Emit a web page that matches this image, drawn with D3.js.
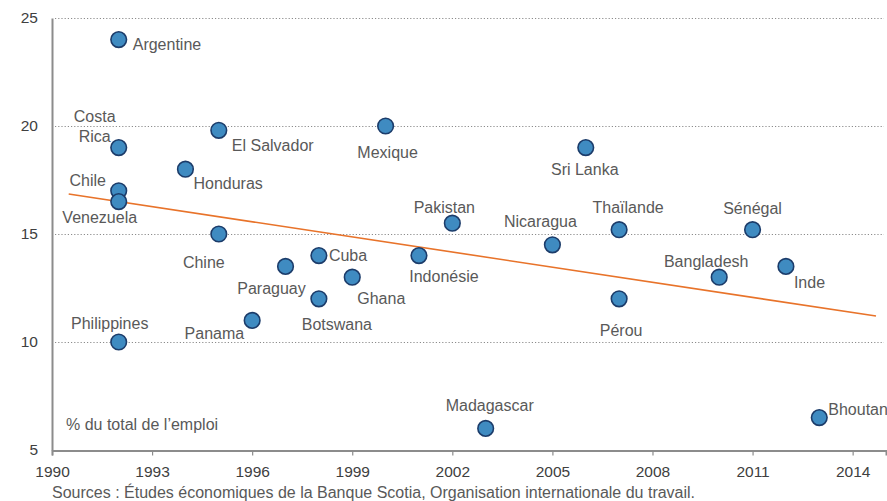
<!DOCTYPE html>
<html>
<head>
<meta charset="utf-8">
<script src="https://cdn.jsdelivr.net/npm/d3@7"></script>
<style>
  body { margin: 0; background: #fff; }
  svg { font-family: "Liberation Sans", Arial, sans-serif; }
  .grid line { stroke: #8c8c8c; stroke-dasharray: 1.2 2; stroke-width: 1; }
  .lbl { fill: #595959; font-size: 16px; }
  .tick text { fill: #404040; font-size: 15.5px; }
</style>
</head>
<body>
<svg class="chart" width="887" height="501"></svg>
<script>
var countries = ['Argentine', 'Costa\nRica', 'Chile', 'Venezuela', 'Philippines', 'Honduras',
  'El Salvador', 'Chine', 'Panama', 'Paraguay', 'Cuba', 'Botswana', 'Ghana', 'Mexique',
  'Indonésie', 'Pakistan', 'Madagascar', 'Nicaragua', 'Sri Lanka', 'Thaïlande', 'Pérou',
  'Bangladesh', 'Sénégal', 'Inde', 'Bhoutan'];
var years = [1992, 1992, 1992, 1992, 1992, 1994, 1995, 1995, 1996, 1997, 1998, 1998, 1999,
  2000, 2001, 2002, 2003, 2005, 2006, 2007, 2007, 2010, 2011, 2012, 2013];
var shares = [24, 19, 17, 16.5, 10, 18, 19.8, 15, 11, 13.5, 14, 12, 13, 20, 14, 15.5, 6,
  14.5, 19, 15.2, 12, 13, 15.2, 13.5, 6.5];
var trendYears = [1990.5, 2014.7];
var trendShares = [16.85, 11.2];
var xTicks = [1990, 1993, 1996, 1999, 2002, 2005, 2008, 2011, 2014];
var yTicks = [5, 10, 15, 20, 25];

// label placement: [dx, dy, anchor] from the marker centre
var labelPlace = [[14, 5, 'start'], [-24, -31, 'middle'], [-31, -10, 'middle'], [-19, 16, 'middle'],
  [-9, -19, 'middle'], [8, 14, 'start'], [13, 15, 'start'], [-15, 28, 'middle'], [-8, 13, 'end'],
  [-14, 22, 'middle'], [10, 0, 'start'], [18, 26, 'middle'], [5, 21, 'start'], [2, 26, 'middle'],
  [25, 21, 'middle'], [-8, -16, 'middle'], [4, -23, 'middle'], [-12, -23, 'middle'],
  [-1, 22, 'middle'], [9, -22, 'middle'], [2, 32, 'middle'], [-13, -16, 'middle'],
  [0, -21, 'middle'], [8, 16, 'start'], [9, -8, 'start']];

(function() {
  var svg = d3.select('.chart');
  var left = 52, right = 886, top = 18, bottom = 450;

  var x = d3.scaleLinear().domain([1990, 2015]).range([left, right]);
  var y = d3.scaleLinear().domain([5, 25]).range([bottom, top]);

  svg.append('g')
    .attr('class', 'grid')
    .selectAll('line')
    .data(yTicks.slice(1))
    .enter().append('line')
      .attr('x1', left + 3)
      .attr('x2', right - 2)
      .attr('y1', function(d) { return y(d) + 0.5; })
      .attr('y2', function(d) { return y(d) + 0.5; });

  var yAxis = svg.append('g')
    .attr('transform', 'translate(' + left + ',0)')
    .call(d3.axisLeft(y).tickValues(yTicks).tickSize(0).tickPadding(14));
  yAxis.select('.domain').attr('stroke', '#8c8c8c').attr('stroke-width', 2);
  yAxis.selectAll('.tick text').attr('dy', '0.3em');

  var xAxis = svg.append('g')
    .attr('transform', 'translate(0,' + (bottom + 0.5) + ')')
    .call(d3.axisBottom(x).tickValues(xTicks).tickFormat(d3.format('d')).tickSizeOuter(0).tickSize(5).tickPadding(10));
  xAxis.select('.domain').attr('stroke', '#8c8c8c').attr('stroke-width', 2);
  xAxis.selectAll('.tick line').attr('stroke', '#8c8c8c').attr('stroke-width', 1.2);

  svg.append('line')
    .attr('x1', x(trendYears[0])).attr('y1', y(trendShares[0]))
    .attr('x2', x(trendYears[1])).attr('y2', y(trendShares[1]))
    .attr('stroke', '#e8732a')
    .attr('stroke-width', 1.6);

  svg.append('g').selectAll('circle')
    .data(years)
    .enter().append('circle')
      .attr('cx', function(d) { return x(d); })
      .attr('cy', function(d, i) { return y(shares[i]); })
      .attr('r', 7.8)
      .attr('fill', '#3f8bc1')
      .attr('stroke', '#1c3c6a')
      .attr('stroke-width', 1.6);

  var labels = svg.append('g').selectAll('text')
    .data(countries)
    .enter().append('text')
      .attr('class', 'lbl')
      .attr('text-anchor', function(d, i) { return labelPlace[i][2]; })
      .attr('x', function(d, i) { return x(years[i]) + labelPlace[i][0]; })
      .attr('y', function(d, i) { return y(shares[i]) + labelPlace[i][1]; });

  labels.each(function(d) {
    var t = d3.select(this);
    var parts = d.split('\n');
    parts.forEach(function(p, k) {
      t.append('tspan')
        .attr('x', t.attr('x'))
        .attr('dy', k === 0 ? '0.35em' : '20')
        .text(p);
    });
  });

  svg.append('text')
    .attr('class', 'lbl')
    .attr('x', 66).attr('y', 424).attr('dy', '0.35em')
    .text('% du total de l’emploi');

  svg.append('text')
    .attr('x', 52).attr('y', 498)
    .attr('fill', '#595959')
    .style('font-size', '16px')
    .text('Sources : Études économiques de la Banque Scotia, Organisation internationale du travail.');
})();
</script>
</body>
</html>
